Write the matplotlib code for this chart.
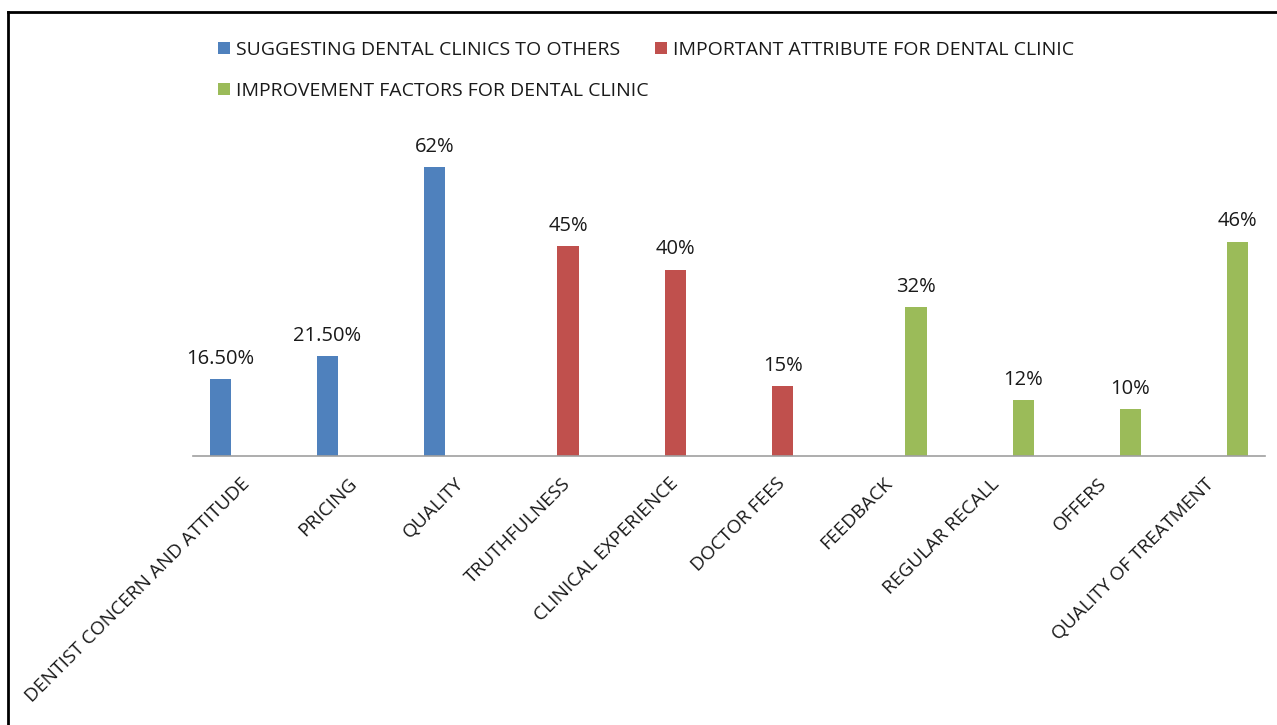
import matplotlib.pyplot as plt
from matplotlib.lines import Line2D
import numpy as np

plt.rcParams['font.family'] = ['Open Sans', 'DejaVu Sans']

# chart data
categories = ['DENTIST CONCERN AND ATTITUDE', 'PRICING', 'QUALITY', 'TRUTHFULNESS',
              'CLINICAL EXPERIENCE', 'DOCTOR FEES', 'FEEDBACK', 'REGULAR RECALL',
              'OFFERS', 'QUALITY OF TREATMENT']
suggesting = [16.5, 21.5, 62, 0, 0, 0, 0, 0, 0, 0]
important = [0, 0, 0, 45, 40, 15, 0, 0, 0, 0]
improvement = [0, 0, 0, 0, 0, 0, 32, 12, 10, 46]
series_names = ['SUGGESTING DENTAL CLINICS TO OTHERS',
                'IMPORTANT ATTRIBUTE FOR DENTAL CLINIC',
                'IMPROVEMENT FACTORS FOR DENTAL CLINIC']
colors = ['#4F81BD', '#C0504D', '#9BBB59']

fig = plt.figure(figsize=(12.77, 7.25), dpi=100)
ax = fig.add_axes([0.1511, 0.371, 0.8395, 0.450])

x = np.arange(len(categories))
width = 0.2
offset = 0.245
bars = []
for k, vals in enumerate([suggesting, important, improvement]):
    b = ax.bar(x + (k - 1) * offset, vals, width, color=colors[k], label=series_names[k])
    bars.append(b)
    for xi, v in zip(x, vals):
        if v == 0:
            continue
        txt = '%d%%' % v if float(v).is_integer() else '%.2f%%' % v
        ax.annotate(txt, (xi + (k - 1) * offset, v), xytext=(0, 11),
                    textcoords='offset points', ha='center', va='baseline',
                    fontsize=14.5, color='#1a1a1a')

ax.set_xlim(-0.5, len(categories) - 0.5)
ax.set_ylim(0, 70)
ax.set_yticks([])
for s in ['top', 'right', 'left']:
    ax.spines[s].set_visible(False)
ax.spines['bottom'].set_color('#A0A0A0')
ax.spines['bottom'].set_linewidth(1.2)
ax.set_xticks(x)
ax.set_xticklabels(categories, rotation=45, ha='right', va='center',
                   rotation_mode='anchor', fontsize=13.8, color='#1a1a1a')
ax.tick_params(axis='x', length=0, pad=18)

# legend: blue, green in first column, red in second
leg = fig.legend([bars[0], bars[2], bars[1]],
                 [series_names[0], series_names[2], series_names[1]],
                 ncol=2, loc='upper left', bbox_to_anchor=(0.157, 0.968),
                 frameon=False, fontsize=14, handlelength=0.6, handleheight=0.6,
                 handletextpad=0.35, columnspacing=0.3, labelspacing=1.2)
for t in leg.get_texts():
    t.set_color('#1a1a1a')

# outer frame (top and left edges)
fig.add_artist(Line2D([8 / 1277, 1], [1 - 12 / 725, 1 - 12 / 725],
                      transform=fig.transFigure, color='black', lw=2))
fig.add_artist(Line2D([8 / 1277, 8 / 1277], [0, 1 - 12 / 725],
                      transform=fig.transFigure, color='black', lw=2))

fig.savefig('out.png', dpi=100)
